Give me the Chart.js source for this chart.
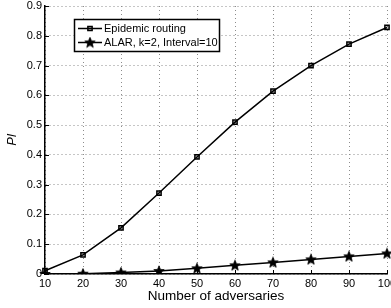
<!DOCTYPE html>
<html>
<head>
<meta charset="utf-8">
<script src="https://cdn.jsdelivr.net/npm/chart.js@4"></script>
<style>
html,body{margin:0;padding:0;background:#fff;overflow:hidden;}
#wrap{position:relative;width:402px;height:308px;}
</style>
</head>
<body>
<div id="wrap"><canvas id="c"></canvas></div>
<script>
const categories = [10, 20, 30, 40, 50, 60, 70, 80, 90, 100];
const epidemic = [0.011, 0.064, 0.155, 0.272, 0.393, 0.51, 0.614, 0.70, 0.772, 0.828];
const alar = [0.0, 0.001, 0.005, 0.01, 0.019, 0.029, 0.039, 0.049, 0.059, 0.069];
const seriesNames = ['Epidemic routing', 'ALAR, k=2, Interval=10'];
const yTicks = [0, 0.1, 0.2, 0.3, 0.4, 0.5, 0.6, 0.7, 0.8, 0.9];
const xTitle = 'Number of adversaries';
const yTitle = 'Pl';

const FONT = 'Liberation Sans, Arial, Helvetica, sans-serif';

// filled five-point star marker
function makeStar() {
  const c = document.createElement('canvas');
  c.width = 12; c.height = 12;
  const g = c.getContext('2d');
  g.fillStyle = '#000';
  g.strokeStyle = '#000';
  g.lineWidth = 0.8;
  g.beginPath();
  for (let k = 0; k < 10; k++) {
    const r = k % 2 === 0 ? 5.5 : 2.4;
    const ang = -Math.PI / 2 + k * Math.PI / 5;
    const px = 6 + r * Math.cos(ang), py = 6.3 + r * Math.sin(ang);
    if (k === 0) g.moveTo(px, py); else g.lineTo(px, py);
  }
  g.closePath();
  g.fill();
  g.stroke();
  return c;
}
const starImg = makeStar();

const legendPlugin = {
  id: 'boxLegend',
  afterDraw(chart) {
    const ctx = chart.ctx;
    const x0 = 74.5, y0 = 19.5, w = 145, h = 32;
    ctx.save();
    ctx.fillStyle = '#fff';
    ctx.fillRect(x0, y0, w, h);
    ctx.strokeStyle = '#000';
    ctx.lineWidth = 1.5;
    ctx.strokeRect(x0, y0, w, h);
    ctx.font = '11px ' + FONT;
    ctx.textBaseline = 'middle';
    ctx.textAlign = 'left';
    chart.data.datasets.forEach((ds, i) => {
      const yy = 28.5 + i * 14;
      ctx.strokeStyle = '#000';
      ctx.lineWidth = 1.5;
      ctx.beginPath();
      ctx.moveTo(78, yy);
      ctx.lineTo(102, yy);
      ctx.stroke();
      ctx.fillStyle = ds.pointBackgroundColor;
      ctx.strokeStyle = '#000';
      ctx.lineWidth = ds.pointBorderWidth;
      Chart.helpers.drawPoint(ctx, {
        pointStyle: ds.pointStyle,
        radius: ds.pointRadius,
        borderWidth: ds.pointBorderWidth
      }, 90, yy);
      ctx.fillStyle = '#000';
      ctx.fillText(ds.label, 104, yy + 0.5);
    });
    ctx.restore();
  }
};

const innerTicks = {
  id: 'innerTicks',
  afterDraw(chart) {
    const ctx = chart.ctx;
    const xs = chart.scales.x, ys = chart.scales.y;
    const a = chart.chartArea;
    ctx.save();
    ctx.strokeStyle = '#000';
    ctx.lineWidth = 1;
    ctx.beginPath();
    ys.ticks.forEach(t => {
      const p = Math.round(ys.getPixelForValue(t.value)) + 0.5;
      ctx.moveTo(a.left, p); ctx.lineTo(a.left + 4, p);
    });
    xs.ticks.forEach((t, i) => {
      const p = Math.round(xs.getPixelForTick(i)) + 0.5;
      ctx.moveTo(p, a.bottom); ctx.lineTo(p, a.bottom - 4);
    });
    ctx.stroke();
    ctx.restore();
  }
};

new Chart(document.getElementById('c'), {
  type: 'line',
  data: {
    labels: categories,
    datasets: [
      {
        label: seriesNames[0],
        data: epidemic,
        borderColor: '#000',
        borderWidth: 1.5,
        pointStyle: 'rect',
        pointRadius: 3,
        pointBorderWidth: 1.5,
        pointBackgroundColor: 'rgba(0,0,0,0.2)',
        pointBorderColor: '#000',
        tension: 0,
        fill: false
      },
      {
        label: seriesNames[1],
        data: alar,
        borderColor: '#000',
        borderWidth: 1.5,
        pointStyle: starImg,
        pointRadius: 5,
        pointBorderWidth: 1,
        pointBackgroundColor: '#000',
        pointBorderColor: '#000',
        tension: 0,
        fill: false
      }
    ]
  },
  options: {
    responsive: true,
    maintainAspectRatio: false,
    animation: false,
    devicePixelRatio: 1,
    layout: { padding: { left: 0, top: 6, right: 15, bottom: 0 } },
    plugins: { legend: { display: false }, tooltip: { enabled: false } },
    scales: {
      x: {
        type: 'category',
        offset: false,
        afterFit(s) { s.height = 34; s.paddingLeft = 0; s.paddingRight = 0; },
        grid: { color: '#8c8c8c', lineWidth: 1, drawTicks: false },
        border: { display: true, color: '#000', width: 1.5, dash: [1, 3] },
        ticks: { color: '#000', padding: 3, font: { family: FONT, size: 11 }, maxRotation: 0, autoSkip: false },
        title: { display: true, text: xTitle, color: '#000', font: { family: FONT, size: 13.5 }, padding: { top: 0, bottom: 4 } }
      },
      y: {
        min: 0,
        max: 0.9,
        afterFit(s) { s.width = 45; s.paddingTop = 0; s.paddingBottom = 0; },
        afterBuildTicks(s) { s.ticks = yTicks.map(v => ({ value: v })); },
        grid: { color: '#8c8c8c', lineWidth: 1, drawTicks: false },
        border: { display: true, color: '#000', width: 1.5, dash: [1, 3] },
        ticks: {
          color: '#000', padding: 3, font: { family: FONT, size: 11 },
          callback: v => (v === 0 ? '0' : v.toFixed(1))
        },
        title: { display: true, text: yTitle, color: '#000', font: { family: FONT, size: 13, style: 'italic' }, padding: { top: 5, bottom: 0 } }
      }
    }
  },
  plugins: [legendPlugin, innerTicks]
});
</script>
</body>
</html>
